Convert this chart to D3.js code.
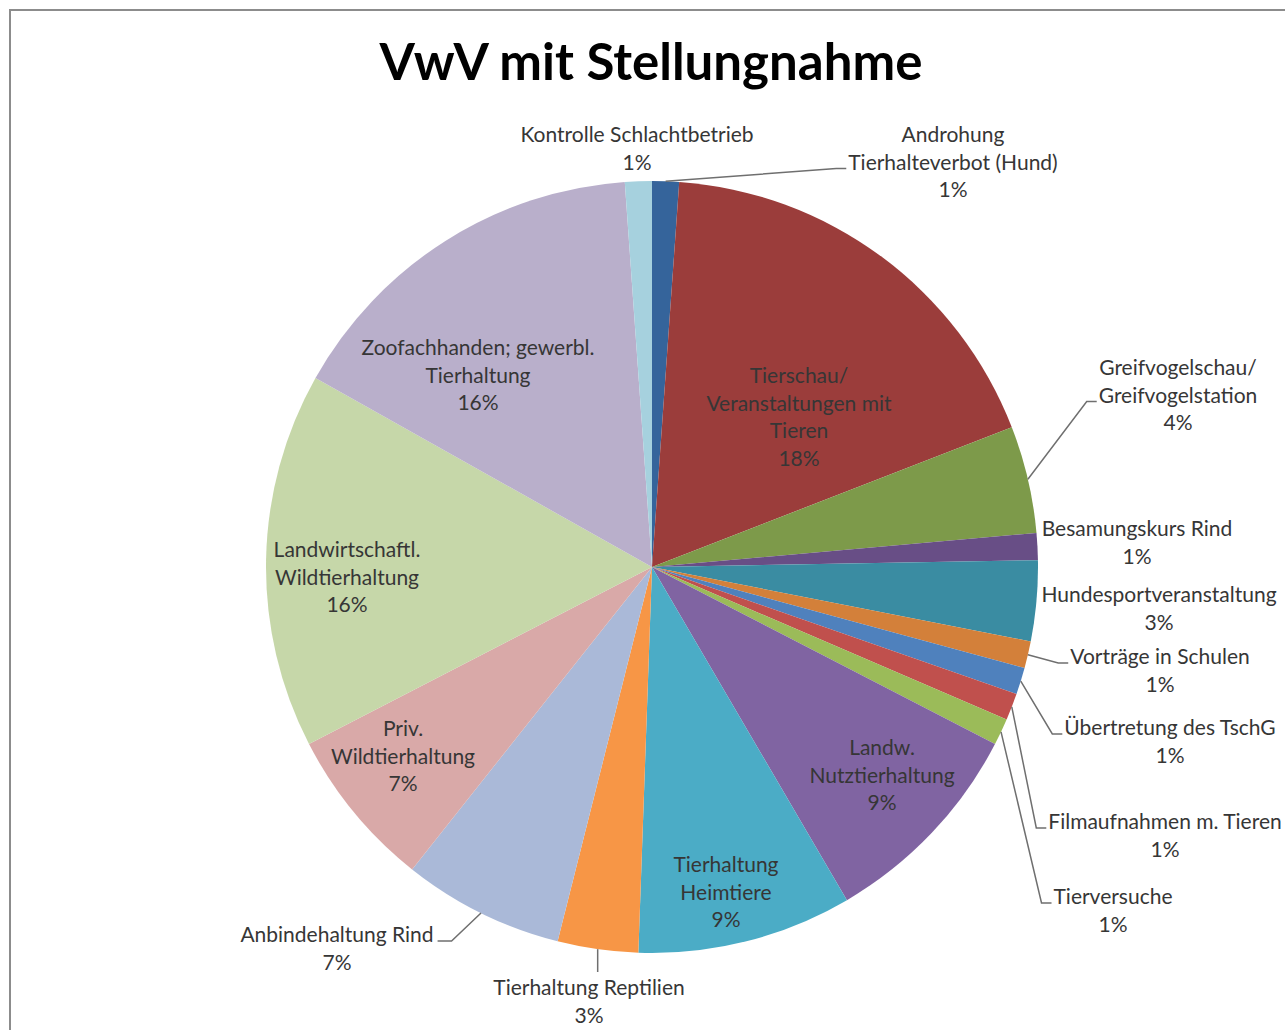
<!DOCTYPE html>
<html>
<head>
<meta charset="utf-8">
<script src="https://cdn.jsdelivr.net/npm/d3@7"></script>
<style>
  body { margin: 0; background: #fff; }
  svg { display: block; }
</style>
</head>
<body>
<div id="chart"></div>
<script>

// data (counts, total 89)
var categories = [
  "Androhung\nTierhalteverbot (Hund)",
  "Tierschau/\nVeranstaltungen mit\nTieren",
  "Greifvogelschau/\nGreifvogelstation",
  "Besamungskurs Rind",
  "Hundesportveranstaltung",
  "Vorträge in Schulen",
  "Übertretung des TschG",
  "Filmaufnahmen m. Tieren",
  "Tierversuche",
  "Landw.\nNutztierhaltung",
  "Tierhaltung\nHeimtiere",
  "Tierhaltung Reptilien",
  "Anbindehaltung Rind",
  "Priv.\nWildtierhaltung",
  "Landwirtschaftl.\nWildtierhaltung",
  "Zoofachhanden; gewerbl.\nTierhaltung",
  "Kontrolle Schlachtbetrieb"
];
var counts = [1, 16, 4, 1, 3, 1, 1, 1, 1, 8, 8, 3, 6, 6, 14, 14, 1];
var colors = ["#35649b", "#9b3d3b", "#7d9a4a", "#684e86", "#3a8ca2", "#d3803a",
              "#4f81bd", "#c0504d", "#9bbb59", "#8064a2", "#4bacc6", "#f79646",
              "#aab9d8", "#d9a9a8", "#c6d7a9", "#b9afcb", "#a6d1de"];
var title = "VwV mit Stellungnahme";

// label layout: centre x, centre y of first line
var labelAnchor = [
  [953, 135], [799, 376], [1178, 368], [1137, 529], [1159, 595], [1160, 657],
  [1170, 728], [1165, 822], [1113, 897], [882, 748], [726, 865], [589, 988],
  [337, 935], [403, 729], [347, 550], [478, 348], [637, 135]
];
// leader: which line it meets, and side ("L" = left edge of label, "R" = right edge, "T" = top)
var leaders = {0: [1, "L"], 2: [1, "L"], 5: [0, "L"], 6: [0, "L"], 7: [0, "L"], 8: [0, "L"], 11: [0, "T"], 12: [0, "R"]};

var W = 1285, H = 1030;
var cx = 652, cy = 567, R = 386;
var lineH = 27.5;

var svg = d3.select("#chart").append("svg")
    .attr("width", W)
    .attr("height", H);

// chart frame
svg.append("rect")
    .attr("x", 10).attr("y", 10)
    .attr("width", 1400).attr("height", 1200)
    .attr("fill", "#fff")
    .attr("stroke", "#8c8c8c")
    .attr("stroke-width", 2);

svg.append("text")
    .attr("x", 651)
    .attr("y", 80)
    .attr("text-anchor", "middle")
    .style("font-family", "Lato, 'Open Sans', sans-serif")
    .style("font-weight", "bold")
    .style("font-size", "51px")
    .attr("fill", "#000")
    .text(title);

var total = d3.sum(counts);
var data = counts.map(function (c, i) {
    return { name: categories[i], value: c, color: colors[i], i: i };
});

var pie = d3.pie().sort(null).value(function (d) { return d.value; });
var arc = d3.arc().innerRadius(0).outerRadius(R);
var arcs = pie(data);

var g = svg.append("g").attr("transform", "translate(" + cx + "," + cy + ")");

g.selectAll("path.slice")
    .data(arcs)
    .enter().append("path")
    .attr("class", "slice")
    .attr("d", arc)
    .attr("fill", function (d) { return d.data.color; });

// labels
var lg = svg.append("g")
    .style("font-family", "Lato, 'Open Sans', sans-serif")
    .style("font-size", "21px")
    .attr("fill", "#363636");

arcs.forEach(function (a, i) {
    var lines = a.data.name.split("\n");
    lines.push(Math.round(a.data.value / total * 100) + "%");
    var pos = labelAnchor[i];
    var t = lg.append("text").attr("text-anchor", "middle");
    var spans = [];
    lines.forEach(function (ln, k) {
        spans.push(t.append("tspan")
            .attr("x", pos[0])
            .attr("y", pos[1] + k * lineH)
            .attr("dy", "0.35em")
            .text(ln));
    });

    if (leaders[i] === undefined) return;
    var li = leaders[i][0], side = leaders[i][1];
    var mid = (a.startAngle + a.endAngle) / 2;
    var sx = cx + R * Math.sin(mid), sy = cy - R * Math.cos(mid);
    var bb = spans[li].node().getBBox();
    var pts;
    if (side === "L") {
        var ly = pos[1] + li * lineH + 6;
        pts = [[sx, sy], [bb.x - 12, ly], [bb.x - 2, ly]];
    } else if (side === "R") {
        var ry = pos[1] + li * lineH + 6;
        pts = [[sx, sy], [bb.x + bb.width + 18, ry], [bb.x + bb.width + 4, ry]];
    } else {
        pts = [[sx, sy], [sx, pos[1] - 16]];
    }
    svg.append("path")
        .attr("d", d3.line()(pts))
        .attr("fill", "none")
        .attr("stroke", "#6f6f6f")
        .attr("stroke-width", 1.5);
});

</script>
</body>
</html>
